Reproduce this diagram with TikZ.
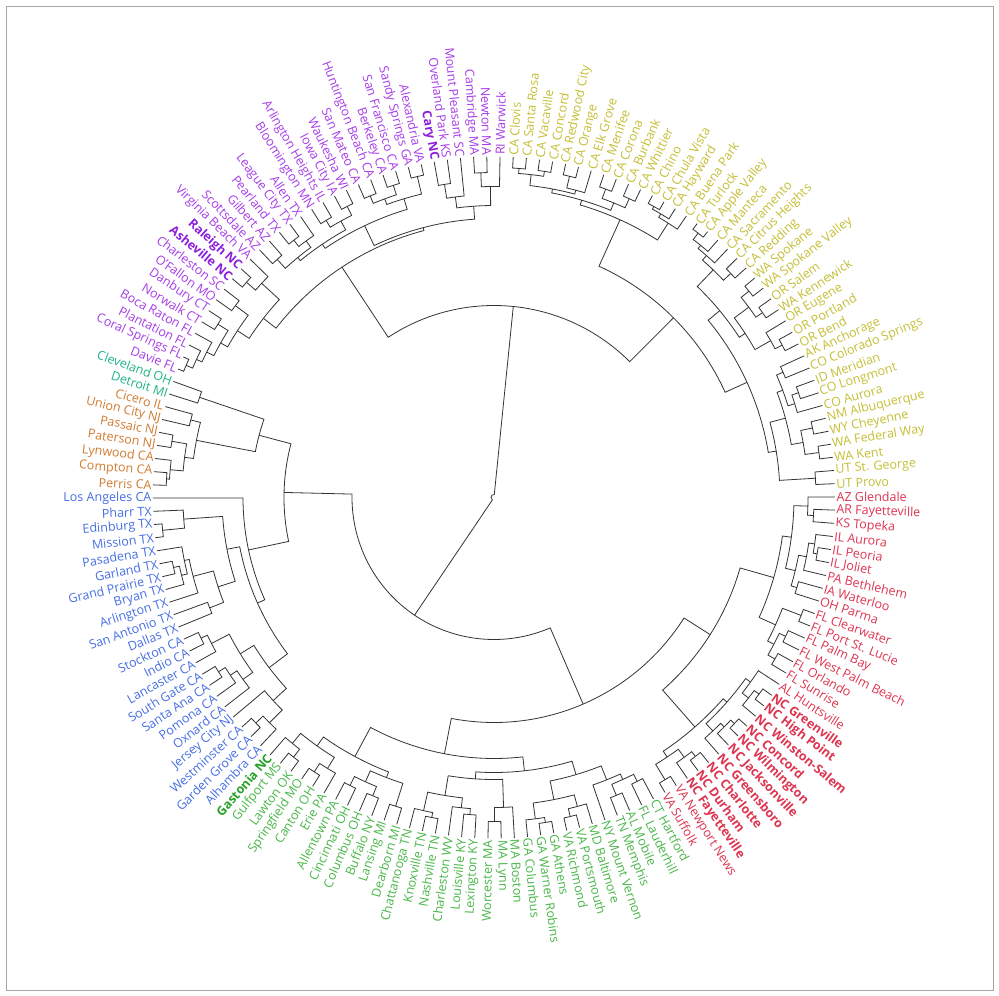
\documentclass[tikz,border=0pt]{standalone}
\usepackage{fontspec}
\setmainfont{Open Sans}
\usepackage{tikz}

\definecolor{redCity}{RGB}{221,52,80}
\definecolor{greenCity}{RGB}{72,182,72}
\definecolor{greenNC}{RGB}{40,160,40}
\definecolor{blueCity}{RGB}{70,110,228}
\definecolor{orangeCity}{RGB}{208,122,48}
\definecolor{tealCity}{RGB}{32,178,136}
\definecolor{purpleCity}{RGB}{166,60,232}
\definecolor{purpleNC}{RGB}{140,30,220}
\definecolor{oliveCity}{RGB}{196,190,52}

% leaf i sits at angle 0.1-(i-1)*360/162
\newcommand{\joinat}[4]{%
  \edef\angA{\csname ang@#2\endcsname}%
  \edef\angB{\csname ang@#3\endcsname}%
  \pgfmathsetmacro\angM{(\angA+\angB)/2}%
  \expandafter\xdef\csname ang@#1\endcsname{\angM}%
  \draw[branch] (#2) -- (\angA:#4pt) arc[start angle=\angA, end angle=\angB, radius=#4pt] -- (#3);%
  \coordinate (#1) at (\angM:#4pt);%
}

\begin{document}
\begin{tikzpicture}[x=1pt, y=1pt]
    \tikzset{
        branch/.style={
                draw=black!80,
                line width=0.8pt
            }
    }
    \tikzset{
        city/.style={
                inner sep=1.5pt,
                font=\fontsize{12.5}{14}\selectfont
            }
    }
    \tikzset{
        cityRed/.style={city, text=redCity},
        cityRedNC/.style={city, text=redCity, font=\fontsize{12.5}{14}\selectfont\bfseries},
        cityGreen/.style={city, text=greenCity},
        cityGreenNC/.style={city, text=greenNC, font=\fontsize{12.5}{14}\selectfont\bfseries},
        cityBlue/.style={city, text=blueCity},
        cityOrange/.style={city, text=orangeCity},
        cityTeal/.style={city, text=tealCity},
        cityPurple/.style={city, text=purpleCity},
        cityPurpleNC/.style={city, text=purpleNC, font=\fontsize{12.5}{14}\selectfont\bfseries},
        cityOlive/.style={city, text=oliveCity}
    }
    \useasboundingbox (-494,497.5) rectangle (505,-498.5);
    \draw[black!35, line width=0.8pt] (-488,491.5) rectangle (499,-492.5);
    % Leaves and labels
    \foreach \i/\nm/\st in {
        1/AZ Glendale/cityRed, 2/AR Fayetteville/cityRed, 3/KS Topeka/cityRed,
        4/IL Aurora/cityRed, 5/IL Peoria/cityRed, 6/IL Joliet/cityRed,
        7/PA Bethlehem/cityRed, 8/IA Waterloo/cityRed, 9/OH Parma/cityRed,
        10/FL Clearwater/cityRed, 11/FL Port St. Lucie/cityRed, 12/FL Palm Bay/cityRed,
        13/FL West Palm Beach/cityRed, 14/FL Orlando/cityRed, 15/FL Sunrise/cityRed,
        16/AL Huntsville/cityRed, 17/NC Greenville/cityRedNC, 18/NC High Point/cityRedNC,
        19/NC Winston-Salem/cityRedNC, 20/NC Concord/cityRedNC, 21/NC Wilmington/cityRedNC,
        22/NC Jacksonville/cityRedNC, 23/NC Greensboro/cityRedNC, 24/NC Charlotte/cityRedNC,
        25/NC Durham/cityRedNC, 26/NC Fayetteville/cityRedNC, 27/VA Newport News/cityRed,
        28/VA Suffolk/cityRed,
        29/CT Hartford/cityGreen, 30/FL Lauderhill/cityGreen, 31/AL Mobile/cityGreen,
        32/TN Memphis/cityGreen, 33/NY Mount Vernon/cityGreen, 34/MD Baltimore/cityGreen,
        35/VA Portsmouth/cityGreen, 36/VA Richmond/cityGreen, 37/GA Athens/cityGreen,
        38/GA Warner Robins/cityGreen, 39/GA Columbus/cityGreen, 40/MA Boston/cityGreen,
        41/MA Lynn/cityGreen, 42/Worcester MA/cityGreen, 43/Lexington KY/cityGreen,
        44/Louisville KY/cityGreen, 45/Charleston WV/cityGreen, 46/Nashville TN/cityGreen,
        47/Knoxville TN/cityGreen, 48/Chattanooga TN/cityGreen, 49/Dearborn MI/cityGreen,
        50/Lansing MI/cityGreen, 51/Buffalo NY/cityGreen, 52/Columbus OH/cityGreen,
        53/Cincinnati OH/cityGreen, 54/Allentown PA/cityGreen, 55/Erie PA/cityGreen,
        56/Canton OH/cityGreen, 57/Springfield MO/cityGreen, 58/Lawton OK/cityGreen,
        59/Gulfport MS/cityGreen, 60/Gastonia NC/cityGreenNC,
        61/Alhambra CA/cityBlue, 62/Garden Grove CA/cityBlue, 63/Westminster CA/cityBlue,
        64/Jersey City NJ/cityBlue, 65/Oxnard CA/cityBlue, 66/Pomona CA/cityBlue,
        67/Santa Ana CA/cityBlue, 68/South Gate CA/cityBlue, 69/Lancaster CA/cityBlue,
        70/Indio CA/cityBlue, 71/Stockton CA/cityBlue, 72/Dallas TX/cityBlue,
        73/San Antonio TX/cityBlue, 74/Arlington TX/cityBlue, 75/Bryan TX/cityBlue,
        76/Grand Prairie TX/cityBlue, 77/Garland TX/cityBlue, 78/Pasadena TX/cityBlue,
        79/Mission TX/cityBlue, 80/Edinburg TX/cityBlue, 81/Pharr TX/cityBlue,
        82/Los Angeles CA/cityBlue,
        83/Perris CA/cityOrange, 84/Compton CA/cityOrange, 85/Lynwood CA/cityOrange,
        86/Paterson NJ/cityOrange, 87/Passaic NJ/cityOrange, 88/Union City NJ/cityOrange,
        89/Cicero IL/cityOrange, 90/Detroit MI/cityTeal, 91/Cleveland OH/cityTeal,
        92/Davie FL/cityPurple, 93/Coral Springs FL/cityPurple, 94/Plantation FL/cityPurple,
        95/Boca Raton FL/cityPurple, 96/Norwalk CT/cityPurple, 97/Danbury CT/cityPurple,
        98/O'Fallon MO/cityPurple, 99/Charleston SC/cityPurple, 100/Asheville NC/cityPurpleNC,
        101/Raleigh NC/cityPurpleNC, 102/Virginia Beach VA/cityPurple, 103/Scottsdale AZ/cityPurple,
        104/Gilbert AZ/cityPurple, 105/Pearland TX/cityPurple, 106/League City TX/cityPurple,
        107/Allen TX/cityPurple, 108/Bloomington MN/cityPurple, 109/Arlington Heights IL/cityPurple,
        110/Iowa City IA/cityPurple, 111/Waukesha WI/cityPurple, 112/San Mateo CA/cityPurple,
        113/Huntington Beach CA/cityPurple, 114/Berkeley CA/cityPurple, 115/San Francisco CA/cityPurple,
        116/Sandy Springs GA/cityPurple, 117/Alexandria VA/cityPurple, 118/Cary NC/cityPurpleNC,
        119/Overland Park KS/cityPurple, 120/Mount Pleasant SC/cityPurple, 121/Cambridge MA/cityPurple,
        122/Newton MA/cityPurple, 123/RI Warwick/cityPurple,
        124/CA Clovis/cityOlive, 125/CA Santa Rosa/cityOlive, 126/CA Vacaville/cityOlive,
        127/CA Concord/cityOlive, 128/CA Redwood City/cityOlive, 129/CA Orange/cityOlive,
        130/CA Elk Grove/cityOlive, 131/CA Menifee/cityOlive, 132/CA Corona/cityOlive,
        133/CA Burbank/cityOlive, 134/CA Whittier/cityOlive, 135/CA Chino/cityOlive,
        136/CA Chula Vista/cityOlive, 137/CA Hayward/cityOlive, 138/CA Buena Park/cityOlive,
        139/CA Turlock/cityOlive, 140/CA Apple Valley/cityOlive, 141/CA Manteca/cityOlive,
        142/CA Sacramento/cityOlive, 143/CA Citrus Heights/cityOlive, 144/CA Redding/cityOlive,
        145/WA Spokane/cityOlive, 146/WA Spokane Valley/cityOlive, 147/OR Salem/cityOlive,
        148/WA Kennewick/cityOlive, 149/OR Eugene/cityOlive, 150/OR Portland/cityOlive,
        151/OR Bend/cityOlive, 152/AK Anchorage/cityOlive, 153/CO Colorado Springs/cityOlive,
        154/ID Meridian/cityOlive, 155/CO Longmont/cityOlive, 156/CO Aurora/cityOlive,
        157/NM Albuquerque/cityOlive, 158/WY Cheyenne/cityOlive, 159/WA Federal Way/cityOlive,
        160/WA Kent/cityOlive, 161/UT St. George/cityOlive, 162/UT Provo/cityOlive}{
        \pgfmathsetmacro\la{0.1-(\i-1)*2.2222222}
        \expandafter\xdef\csname ang@L\i\endcsname{\la}
        \coordinate (L\i) at (\la:341pt);
        \pgfmathtruncatemacro\side{cos(\la)>=0 ? 1 : 0}
        \ifnum\side=1
            \node[\st, anchor=west, rotate=\la] (t\i) at (\la:341pt) {\nm};
        \else
            \pgfmathsetmacro\lb{\la+180}
            \node[\st, anchor=east, rotate=\lb] (t\i) at (\la:341pt) {\nm};
        \fi
    }
    % Red branches
    \joinat{r23}{L2}{L3}{320}
    \joinat{r123}{L1}{r23}{314}
    \joinat{r56}{L5}{L6}{328}
    \joinat{r456}{L4}{r56}{324}
    \joinat{r4567}{r456}{L7}{318}
    \joinat{r89}{L8}{L9}{316}
    \joinat{r4to9}{r4567}{r89}{310}
    \joinat{r1to9}{r123}{r4to9}{300}
    \joinat{r1011}{L10}{L11}{329}
    \joinat{r1213}{L12}{L13}{323}
    \joinat{r1415}{L14}{L15}{324}
    \joinat{r12to15}{r1213}{r1415}{316}
    \joinat{r10to15}{r1011}{r12to15}{309}
    \joinat{rA}{r1to9}{r10to15}{291}
    \joinat{r1718}{L17}{L18}{330}
    \joinat{r17to19}{r1718}{L19}{324}
    \joinat{r16to19}{L16}{r17to19}{316}
    \joinat{r2021}{L20}{L21}{330}
    \joinat{r20to22}{r2021}{L22}{325}
    \joinat{r20to23}{r20to22}{L23}{320}
    \joinat{r16to23}{r16to19}{r20to23}{310}
    \joinat{r2425}{L24}{L25}{328}
    \joinat{r24to26}{r2425}{L26}{322}
    \joinat{r2728}{L27}{L28}{330}
    \joinat{r24to28}{r24to26}{r2728}{312}
    \joinat{rNC}{r16to23}{r24to28}{305}
    \joinat{redRoot}{rA}{rNC}{256}
    % Green branches
    \joinat{g2930}{L29}{L30}{318}
    \joinat{g3132}{L31}{L32}{322}
    \joinat{g29to32}{g2930}{g3132}{310}
    \joinat{g29to33}{g29to32}{L33}{304}
    \joinat{g3536}{L35}{L36}{328}
    \joinat{g34to36}{L34}{g3536}{320}
    \joinat{g3738}{L37}{L38}{329}
    \joinat{g37to39}{g3738}{L39}{324}
    \joinat{g34to39}{g34to36}{g37to39}{308}
    \joinat{g29to39}{g29to33}{g34to39}{289}
    \joinat{g4142}{L41}{L42}{324}
    \joinat{g40to42}{L40}{g4142}{310}
    \joinat{g4344}{L43}{L44}{318}
    \joinat{g43to45}{g4344}{L45}{312}
    \joinat{g4647}{L46}{L47}{326}
    \joinat{g46to48}{g4647}{L48}{321}
    \joinat{g43to48}{g43to45}{g46to48}{302}
    \joinat{g40to48}{g40to42}{g43to48}{282}
    \joinat{gRight}{g29to39}{g40to48}{275}
    \joinat{g4950}{L49}{L50}{324}
    \joinat{g5152}{L51}{L52}{322}
    \joinat{g5354}{L53}{L54}{322}
    \joinat{g51to54}{g5152}{g5354}{312}
    \joinat{g49to54}{g4950}{g51to54}{300}
    \joinat{g5657}{L56}{L57}{328}
    \joinat{g55to57}{L55}{g5657}{318}
    \joinat{g5859}{L58}{L59}{328}
    \joinat{g58to60}{g5859}{L60}{318}
    \joinat{g55to60}{g55to57}{g58to60}{305}
    \joinat{gLeft}{g49to54}{g55to60}{294}
    \joinat{greenRoot}{gRight}{gLeft}{261}
    \joinat{nB2}{greenRoot}{redRoot}{225}
    % Blue branches
    \joinat{b7980}{L79}{L80}{333}
    \joinat{b79to81}{b7980}{L81}{311}
    \joinat{b7677}{L76}{L77}{328}
    \joinat{b75to77}{L75}{b7677}{322}
    \joinat{b75to78}{b75to77}{L78}{316}
    \joinat{b74to78}{L74}{b75to78}{311}
    \joinat{b7273}{L72}{L73}{305}
    \joinat{b72to78}{b7273}{b74to78}{290}
    \joinat{bTX}{b72to78}{b79to81}{272}
    \joinat{b7071}{L70}{L71}{325}
    \joinat{b69to71}{L69}{b7071}{318}
    \joinat{b6768}{L67}{L68}{326}
    \joinat{b66to68}{L66}{b6768}{318}
    \joinat{b65to68}{L65}{b66to68}{310}
    \joinat{b65to71}{b65to68}{b69to71}{298}
    \joinat{b6263}{L62}{L63}{328}
    \joinat{b61to63}{L61}{b6263}{318}
    \joinat{b61to64}{b61to63}{L64}{300}
    \joinat{bCA}{b61to64}{b65to71}{282}
    \joinat{blueMain}{bCA}{bTX}{259}
    \joinat{nLA}{blueMain}{L82}{251}
    % Orange and teal branches
    \joinat{o8384}{L83}{L84}{328}
    \joinat{o83to85}{o8384}{L85}{325}
    \joinat{o8687}{L86}{L87}{327}
    \joinat{o83to87}{o83to85}{o8687}{312}
    \joinat{o8889}{L88}{L89}{313}
    \joinat{o83to89}{o83to87}{o8889}{303}
    \joinat{t9091}{L90}{L91}{311}
    \joinat{nOT}{o83to89}{t9091}{243}
    \joinat{nB1}{nLA}{nOT}{210}
    \joinat{nB}{nB1}{nB2}{142}
    % Purple branches
    \joinat{p9293}{L92}{L93}{335}
    \joinat{p92to94}{p9293}{L94}{328}
    \joinat{p92to95}{p92to94}{L95}{322}
    \joinat{p9697}{L96}{L97}{326}
    \joinat{p92to97}{p92to95}{p9697}{314}
    \joinat{p9899}{L98}{L99}{322}
    \joinat{p92to99}{p92to97}{p9899}{306}
    \joinat{p100101}{L100}{L101}{328}
    \joinat{p100to102}{p100101}{L102}{316}
    \joinat{pL}{p92to99}{p100to102}{292}
    \joinat{p103104}{L103}{L104}{322}
    \joinat{p105106}{L105}{L106}{326}
    \joinat{p105to107}{p105106}{L107}{318}
    \joinat{p103to107}{p103104}{p105to107}{310}
    \joinat{p108109}{L108}{L109}{324}
    \joinat{p110111}{L110}{L111}{326}
    \joinat{p108to111}{p108109}{p110111}{316}
    \joinat{p103to111}{p103to107}{p108to111}{306}
    \joinat{p112113}{L112}{L113}{326}
    \joinat{p114115}{L114}{L115}{328}
    \joinat{p112to115}{p112113}{p114115}{318}
    \joinat{p116117}{L116}{L117}{330}
    \joinat{p112to117}{p112to115}{p116117}{312}
    \joinat{pRL}{p103to111}{p112to117}{301}
    \joinat{p118119}{L118}{L119}{317}
    \joinat{p118to120}{p118119}{L120}{303}
    \joinat{p121122}{L121}{L122}{325}
    \joinat{p121to123}{p121122}{L123}{311}
    \joinat{pRR}{p118to120}{p121to123}{292}
    \joinat{pR}{pRL}{pRR}{279}
    \joinat{purpleRoot}{pL}{pR}{276}
    % Olive branches
    \joinat{y124125}{L124}{L125}{330}
    \joinat{y126127}{L126}{L127}{330}
    \joinat{y124to127}{y124125}{y126127}{325}
    \joinat{y128129}{L128}{L129}{330}
    \joinat{y128to130}{y128129}{L130}{318}
    \joinat{y124to130}{y124to127}{y128to130}{314}
    \joinat{y131132}{L131}{L132}{328}
    \joinat{y133134}{L133}{L134}{328}
    \joinat{y131to134}{y131132}{y133134}{318}
    \joinat{y124to134}{y124to130}{y131to134}{310}
    \joinat{y135136}{L135}{L136}{332}
    \joinat{y135to137}{y135136}{L137}{329}
    \joinat{y135to138}{y135to137}{L138}{325}
    \joinat{yA}{y124to134}{y135to138}{305}
    \joinat{y139140}{L139}{L140}{334}
    \joinat{y139to141}{y139140}{L141}{326}
    \joinat{y139to142}{y139to141}{L142}{322}
    \joinat{y143144}{L143}{L144}{326}
    \joinat{y139to144}{y139to142}{y143144}{316}
    \joinat{y145146}{L145}{L146}{328}
    \joinat{y147148}{L147}{L148}{326}
    \joinat{y145to148}{y145146}{y147148}{318}
    \joinat{y150151}{L150}{L151}{326}
    \joinat{y149to151}{L149}{y150151}{318}
    \joinat{y145to151}{y145to148}{y149to151}{300}
    \joinat{y139to151}{y139to144}{y145to151}{293}
    \joinat{y152153}{L152}{L153}{315}
    \joinat{y154155}{L154}{L155}{322}
    \joinat{y154to156}{y154155}{L156}{315}
    \joinat{y152to156}{y152153}{y154to156}{308}
    \joinat{y157158}{L157}{L158}{326}
    \joinat{y159160}{L159}{L160}{328}
    \joinat{y157to160}{y157158}{y159160}{314}
    \joinat{y152to160}{y152to156}{y157to160}{302}
    \joinat{y161162}{L161}{L162}{322}
    \joinat{y152to162}{y152to160}{y161162}{286}
    \joinat{yB}{y139to151}{y152to162}{278}
    \joinat{yellowRoot}{yA}{yB}{254}
    % Top levels
    \joinat{nA}{purpleRoot}{yellowRoot}{192}
    \joinat{root}{nA}{nB}{3}
\end{tikzpicture}
\end{document}
